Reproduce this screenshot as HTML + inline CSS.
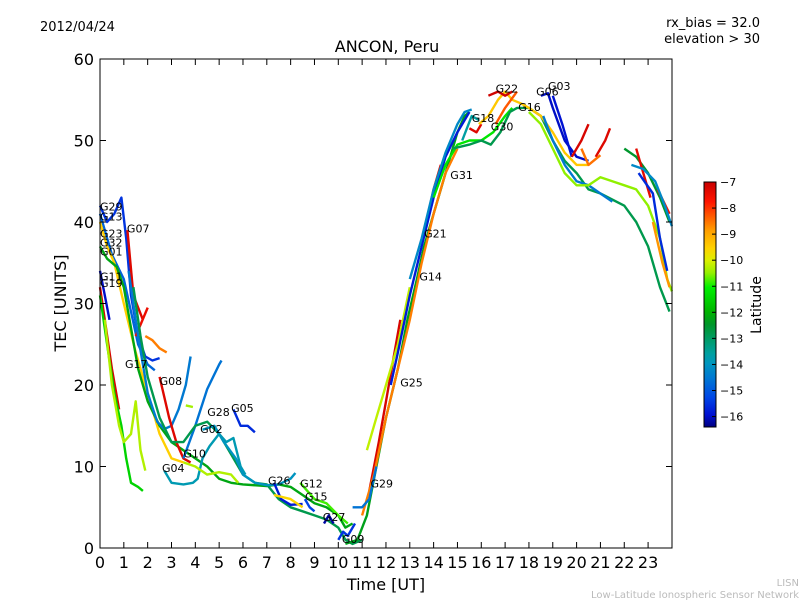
<!DOCTYPE html>
<html><head><meta charset="utf-8"><style>
body{margin:0;background:#fff;font-family:"Liberation Sans","DejaVu Sans",sans-serif}
svg text{font-family:"DejaVu Sans","Liberation Sans",sans-serif}
</style></head><body>
<svg id="c" width="800" height="600" viewBox="0 0 800 600" xmlns="http://www.w3.org/2000/svg">
<defs><linearGradient id="jet" x1="0" y1="1" x2="0" y2="0"></linearGradient></defs>
<text x="40" y="31" font-size="13">2012/04/24</text>
<text x="760" y="27" font-size="13" text-anchor="end">rx_bias = 32.0</text>
<text x="760" y="43" font-size="13" text-anchor="end">elevation &gt; 30</text>
<text x="387" y="52" font-size="16" text-anchor="middle">ANCON, Peru</text>
<text x="386" y="590" font-size="16" text-anchor="middle">Time [UT]</text>
<text transform="translate(66,303) rotate(-90)" font-size="16" text-anchor="middle">TEC [UNITS]</text>
<g id="plot"></g>
<rect x="100" y="59" width="572" height="489" fill="none" stroke="#000" stroke-width="1"/>
<g id="axes"></g>
<rect x="704" y="182" width="12" height="245" fill="url(#jet)" stroke="#000" stroke-width="1"/>
<g id="cbt"></g>
<text transform="translate(761,305) rotate(-90)" font-size="14" text-anchor="middle">Latitude</text>
<text x="799" y="586" font-size="10" fill="#bbb" text-anchor="end">LISN</text>
<text x="799" y="598" font-size="10" fill="#bbb" text-anchor="end">Low-Latitude Ionospheric Sensor Network</text>
</svg>
<script>
const xTicks=[0,1,2,3,4,5,6,7,8,9,10,11,12,13,14,15,16,17,18,19,20,21,22,23];
const yTicks=[0,10,20,30,40,50,60];
const cbTicks=[-7,-8,-9,-10,-11,-12,-13,-14,-15,-16];
const seriesLat=[-15.5,-14.8,-7.3,-8.6,-7.5,-9.5,-12.2,-16,-7.2,-11.5,-10.3,-14.5,-7.3,-14.6,-13.8,-15.6,-12.8,-10.3,-14,-15.8,-9.6,-10.8,-15.3,-16.2,-15.5,
-12.3,-7.2,-7.4,-8.6,-10.2,-15.8,-14.2,-11.2,-12.8,-7.3,-9.4,-7.1,-16,-15.9,-14.5,-10.5,-7.2,-7.3,-8.5,-12.5,-7.4,-15.6,-7.6,-14.2,-8.8,-13.6,-8.3,-10.4,-14.6];
const seriesPts=[
[[0,42],[0.3,40],[0.6,41],[0.9,43],[1.1,38],[1.3,31],[1.6,26],[1.9,23.5],[2.2,23],[2.5,23.3]],
[[0,41],[0.5,36],[1,33],[1.3,29],[1.6,25],[2,22.5],[2.3,21.8]],
[[1.15,39],[1.4,31],[1.8,28]],
[[1.9,26],[2.2,25.5],[2.5,24.5],[2.8,24]],
[[1.5,26],[2.0,29.5]],
[[0,40],[0.3,37],[0.6,35],[1,30],[1.5,24],[2,19],[2.5,14],[3,11],[3.5,10.5]],
[[0,37],[0.3,35.5],[0.7,34.5],[1,32],[1.3,27],[1.6,22],[2,18],[2.5,15],[3,13],[3.5,12],[4,11],[4.5,10],[5,8.5],[5.5,8],[6,7.8],[7,7.6],[7.5,7.8],[8,7.5],[8.5,6.5],[9,5.5],[9.5,5],[10,4],[10.3,2.5],[10.6,3]],
[[0,34],[0.2,31],[0.4,28]],
[[0,32],[0.2,28],[0.5,22],[0.8,17]],
[[0,31],[0.3,25],[0.6,19],[0.9,15],[1.1,11],[1.3,8],[1.6,7.5],[1.8,7]],
[[0.2,28],[0.5,20],[0.8,15],[1.0,13],[1.3,14],[1.5,18],[1.7,12],[1.9,9.5]],
[[1.2,34],[1.6,26],[2,19],[2.4,15.5],[2.7,14.6],[3,15],[3.3,17],[3.6,20],[3.8,23.5]],
[[2.5,21],[2.9,16],[3.2,13],[3.5,11],[3.8,10.5]],
[[3.5,11],[4,15],[4.5,19.5],[5,22.5],[5.1,23]],
[[2.7,9.5],[3,8],[3.5,7.8],[3.9,8],[4.1,8.5],[4.3,11],[4.6,12.5],[5,14],[5.3,13],[5.6,13.5],[5.9,10],[6.1,9]],
[[5.6,17],[5.9,15],[6.2,15],[6.5,14.2]],
[[1.4,32],[1.7,26],[2,21],[2.5,16],[3,13],[3.5,13],[4,15],[4.5,15.5],[5,14],[5.5,11.5],[6,9],[6.5,8],[7,7.8],[7.5,6],[8,5],[8.5,4.5],[9,4],[9.5,3.5],[10,2.5],[10.3,1],[10.6,0.5],[11,1]],
[[3.5,10.5],[4,10],[4.5,9],[5,9.3],[5.5,9],[5.8,8]],
[[4.3,14.5],[4.8,15],[5.2,13],[5.7,11],[6,9],[6.5,8],[7,7.7],[7.5,7.8],[8,8.5],[8.2,9.2]],
[[7.3,8],[7.6,6],[8.0,5.3],[8.5,5.4]],
[[7.3,6.5],[8,6],[8.5,5]],
[[8.4,8],[9,6],[9.5,5.5],[10,4],[10.4,3]],
[[8.6,6],[8.8,5],[9,4.5]],
[[9.4,3],[9.6,4],[9.8,3]],
[[10,1],[10.2,2],[10.4,1.5],[10.7,3]],
[[10.3,0.5],[10.8,1],[11.2,4],[11.6,10],[12,16],[12.5,22],[12.9,28],[13.3,33],[13.6,37],[14,41],[14.3,44],[14.7,48],[15,51],[15.3,53],[15.5,53.5]],
[[11.3,7],[11.7,13],[12,18],[12.3,23],[12.6,28]],
[[13.7,40],[14,44],[14.3,47]],
[[11,4],[11.5,9],[12,16],[12.5,22],[13,28],[13.5,35],[14,41],[14.5,46],[15,49]],
[[11.2,12],[11.6,16],[12,20],[12.5,25],[13,32]],
[[12.2,20],[12.5,24],[13,31],[13.5,37],[14,43],[14.5,48],[15,51],[15.3,52.5],[15.5,53.5]],
[[13,33],[13.5,38],[14,44],[14.5,48.5],[15,52],[15.3,53.5],[15.6,53.8]],
[[14,43],[14.5,47],[15,49.5],[15.5,50],[16,50],[16.5,51],[17,53],[17.3,54]],
[[14.8,49],[15.5,49.5],[16,50],[16.4,49.5],[16.8,51],[17.2,53.5],[17.5,54],[18,54],[18.5,53],[19,50],[19.5,47.5],[20,46],[20.5,44],[21,43.5],[22,42],[22.5,40],[23,37],[23.5,32],[23.9,29]],
[[15.5,51.5],[15.8,51],[16,52]],
[[15.9,52],[16.3,53],[16.7,55],[17,56],[17.3,55],[17.7,54.5],[18,54],[18.5,53],[19,51],[19.5,48.5],[20,47],[20.5,47]],
[[16.3,55.5],[16.7,56],[17,55.5],[17.3,56]],
[[18.5,55.5],[18.8,55.8],[19,54],[19.5,50],[20,48],[20.5,47.5]],
[[19,55.5],[19.4,52],[19.8,48]],
[[18.6,53],[19,50],[19.5,47],[20,45],[20.5,44.5],[21,43.5],[21.5,42.5]],
[[18,53.5],[18.5,52],[19,49],[19.5,46],[20,44.5],[20.5,44.5],[21,45.5],[21.5,45],[22,44.5],[22.5,44],[23,42],[23.5,38],[23.8,33],[24,31.5]],
[[19.8,48],[20.2,50],[20.5,52]],
[[20.8,48],[21.2,50],[21.4,51.5]],
[[20.2,49],[20.5,47],[21,48.2]],
[[22,49],[22.5,48],[23,46],[23.5,43],[23.9,40]],
[[22.5,49],[22.8,46],[23.1,43]],
[[22.6,46],[23.2,43.5],[23.5,38],[23.8,34]],
[[23.4,44],[23.9,41]],
[[22.3,47],[22.8,46.5],[23.3,45],[23.7,42],[24,39.5]],
[[23.2,40],[23.6,35],[23.9,32]],
[[15.2,50],[15.6,53],[15.9,52.5]],
[[16.6,52],[17,54],[17.5,56]],
[[3.6,17.5],[3.9,17.3]],
[[10.6,5],[11,5],[11.3,6],[11.6,10]]
];
const labelNames=["G29","G13","G07","G23","G32","G01","G11","G19","G17","G08","G28","G05","G02","G10","G04","G26","G12","G15","G27","G09","G29","G25","G14","G21","G31","G18","G30","G22","G16","G06","G03"];
const labelT=[0,0,1.13,0,0,0,0,0,1.05,2.5,4.5,5.5,4.2,3.5,2.6,7.05,8.4,8.6,9.35,10.15,11.35,12.6,13.4,13.6,14.7,15.6,16.4,16.6,17.55,18.3,18.8];
const labelV=[41.4,40.2,38.7,38.1,37.0,35.9,32.8,32.0,22.1,20.0,16.2,16.7,14.1,11.1,9.3,7.8,7.4,5.8,3.3,0.6,7.4,19.8,32.8,38.1,45.3,52.3,51.2,55.9,53.6,55.5,56.2];
const X=t=>100+t*23.83, Y=v=>548-v*8.15;
const NS="http://www.w3.org/2000/svg";
const cmap=[[0,[0,0,128]],[0.05,[0,16,210]],[0.12,[0,70,230]],[0.2,[0,120,210]],[0.26,[0,150,190]],[0.3,[0,160,160]],[0.36,[0,155,100]],[0.42,[0,150,40]],[0.47,[0,180,0]],[0.57,[0,240,0]],[0.63,[150,240,0]],[0.68,[220,240,0]],[0.73,[255,210,0]],[0.8,[255,160,0]],[0.86,[255,90,0]],[0.92,[255,20,0]],[1,[200,0,0]]];
function jet(v){v=Math.max(0,Math.min(1,v));for(let i=1;i<cmap.length;i++){if(v<=cmap[i][0]){const a=cmap[i-1],b=cmap[i],f=(v-a[0])/(b[0]-a[0]);return 'rgb('+a[1].map((c,k)=>Math.round(c+(b[1][k]-c)*f)).join(',')+')';}}return 'rgb(200,0,0)';}
const grad=document.getElementById('jet');
cmap.forEach(s=>{const st=document.createElementNS(NS,'stop');st.setAttribute('offset',s[0]);st.setAttribute('stop-color','rgb('+s[1].join(',')+')');grad.appendChild(st);});
const latMin=-16.4,latMax=-7;
const plot=document.getElementById('plot');
seriesPts.forEach((pts,i)=>{
 const p=document.createElementNS(NS,'polyline');
 p.setAttribute('points',pts.map(q=>X(q[0]).toFixed(1)+','+Y(q[1]).toFixed(1)).join(' '));
 p.setAttribute('fill','none');p.setAttribute('stroke-width','2.4');p.setAttribute('stroke-linejoin','round');
 p.setAttribute('stroke',jet((seriesLat[i]-latMin)/(latMax-latMin)));
 
 
 plot.appendChild(p);
});
labelNames.forEach((n,i)=>{
 const t=document.createElementNS(NS,'text');
 t.setAttribute('x',X(labelT[i]));t.setAttribute('y',Y(labelV[i]));t.setAttribute('font-size','11');
 t.textContent=n;
 
 
 plot.appendChild(t);
});
const ax=document.getElementById('axes');
function add(tag,attrs,txt){const e=document.createElementNS(NS,tag);for(const k in attrs)e.setAttribute(k,attrs[k]);if(txt!==undefined)e.textContent=txt;ax.appendChild(e);return e;}
xTicks.forEach(t=>{
 add('line',{x1:X(t),x2:X(t),y1:548,y2:542,stroke:'#000'});
 add('line',{x1:X(t),x2:X(t),y1:59,y2:65,stroke:'#000'});
 const e=add('text',{x:X(t),y:568,'font-size':16,'text-anchor':'middle'},String(t));
 
 
});
yTicks.forEach(v=>{
 add('line',{x1:100,x2:106,y1:Y(v),y2:Y(v),stroke:'#000'});
 add('line',{x1:672,x2:666,y1:Y(v),y2:Y(v),stroke:'#000'});
 const e=add('text',{x:94,y:Y(v)+6,'font-size':16,'text-anchor':'end'},String(v));
 
 
});
const cb=document.getElementById('cbt');
cbTicks.forEach(v=>{
 const y=427-(v-latMin)/(latMax-latMin)*245;
 const l=document.createElementNS(NS,'line');l.setAttribute('x1',712);l.setAttribute('x2',716);l.setAttribute('y1',y);l.setAttribute('y2',y);l.setAttribute('stroke','#000');cb.appendChild(l);
 const t=document.createElementNS(NS,'text');t.setAttribute('x',720);t.setAttribute('y',y+4);t.setAttribute('font-size','11');t.textContent=String(v).replace('-','\u2212');
 
 
 cb.appendChild(t);
});
</script>
</body></html>
